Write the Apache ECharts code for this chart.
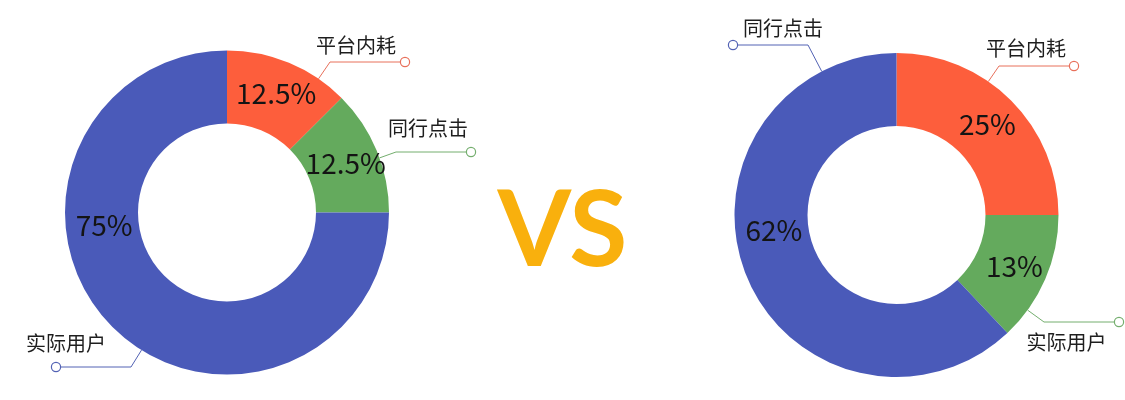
<!DOCTYPE html>
<html>
<head>
<meta charset="utf-8">
<script src="https://cdn.jsdelivr.net/npm/echarts@6/dist/echarts.min.js"></script>
<style>html,body{margin:0;padding:0;background:#fff}#c{width:1125px;height:400px}</style>
</head>
<body>
<div id="c"></div>
<script>
// ---- data ----
const leftCategories = ['平台内耗', '同行点击', '实际用户'];
const leftValues = [12.5, 12.5, 75];
const rightCategories = ['平台内耗', '实际用户', '同行点击'];
const rightValues = [25, 13, 62];
const compareText = 'VS';

// ---- style / layout ----
const palette = ['#FD5E3C', '#64AA5D', '#4A5AB9'];
const lineColors = ['#E8705B', '#74AE6E', '#5262B4'];
const FONT = '"Noto Sans CJK SC", "Noto Sans", sans-serif';
const R_IN = 89, R_OUT = 162, ARM = 75, DOT_R = 4.5;

const pies = [
  { center: [227, 212.5], names: leftCategories, values: leftValues,
    dots: [[405, 62], [471, 152], [56, 367]],
    texts: [[356, 45], [428, 128], [66, 343]],
    pctAngle: [null, null, 264] },
  { center: [896.5, 215], names: rightCategories, values: rightValues,
    dots: [[1074, 66], [1119, 322], [733, 45]],
    texts: [[1026, 48], [1066.5, 342], [783, 28]],
    pctAngle: [null, null, 263] }
];

const dotRich = {};
lineColors.forEach((c, i) => {
  dotRich['d' + i] = { width: 8, height: 8, borderRadius: 5, borderWidth: 1.2, borderColor: c, backgroundColor: '#fff' };
});

const series = [];
pies.forEach((cfg) => {
  const base = {
    type: 'pie', center: cfg.center, radius: [R_IN, R_OUT],
    startAngle: 90, clockwise: true, avoidLabelOverlap: false,
    animation: false
  };
  const mainData = cfg.values.map((v, i) => ({ name: cfg.names[i], value: v }));
  // visible donut with inside percentages
  series.push(Object.assign({}, base, {
    data: mainData,
    itemStyle: { color: (p) => palette[p.dataIndex] },
    label: { show: true, position: 'inside', formatter: '{d}%', fontSize: 28, color: '#141414', fontFamily: FONT },
    labelLine: { show: false },
    labelLayout: function (p) {
      const a = cfg.pctAngle[p.dataIndex];
      if (a == null) return {};
      const r = (R_IN + R_OUT) / 2 - 2;
      const t = a * Math.PI / 180;
      return { x: cfg.center[0] + r * Math.sin(t), y: cfg.center[1] - r * Math.cos(t), align: 'center', verticalAlign: 'middle' };
    }
  }));
  // guide lines with end circles
  series.push(Object.assign({}, base, {
    silent: true, z: 3,
    data: mainData.map((d, i) => ({ name: d.name, value: d.value, labelLine: { lineStyle: { color: lineColors[i] } } })),
    itemStyle: { color: 'rgba(0,0,0,0)' },
    label: { show: true, position: 'outside', formatter: (p) => '{d' + p.dataIndex + '|}', rich: dotRich },
    labelLine: { show: true, lineStyle: { width: 1 } },
    labelLayout: function (p) {
      const d = cfg.dots[p.dataIndex];
      const cx = cfg.center[0], cy = cfg.center[1];
      const dir = d[0] > cx ? -1 : 1;
      const elbow = [d[0] + dir * ARM, d[1]];
      const vx = elbow[0] - cx, vy = elbow[1] - cy, len = Math.hypot(vx, vy);
      const arc = [cx + vx / len * R_OUT, cy + vy / len * R_OUT];
      return { x: d[0], y: d[1], align: 'center', verticalAlign: 'middle',
        labelLinePoints: [arc, elbow, [d[0] + dir * DOT_R, d[1]]] };
    }
  }));
  // category names
  series.push(Object.assign({}, base, {
    silent: true, z: 3,
    data: mainData,
    itemStyle: { color: 'rgba(0,0,0,0)' },
    label: { show: true, position: 'outside', formatter: '{b}', fontSize: 20, color: '#1e1e1e', fontFamily: FONT },
    labelLine: { show: false },
    labelLayout: function (p) {
      const t = cfg.texts[p.dataIndex];
      return { x: t[0], y: t[1], align: 'center', verticalAlign: 'middle' };
    }
  }));
});

const chart = echarts.init(document.getElementById('c'));
chart.setOption({
  animation: false,
  backgroundColor: '#fff',
  title: {
    text: compareText, left: 'center', top: 174,
    textStyle: { fontSize: 106, fontWeight: 'bold', fontFamily: 'Lato, "Open Sans", sans-serif', color: '#F9B00D' }
  },
  series: series
});
</script>
</body>
</html>
